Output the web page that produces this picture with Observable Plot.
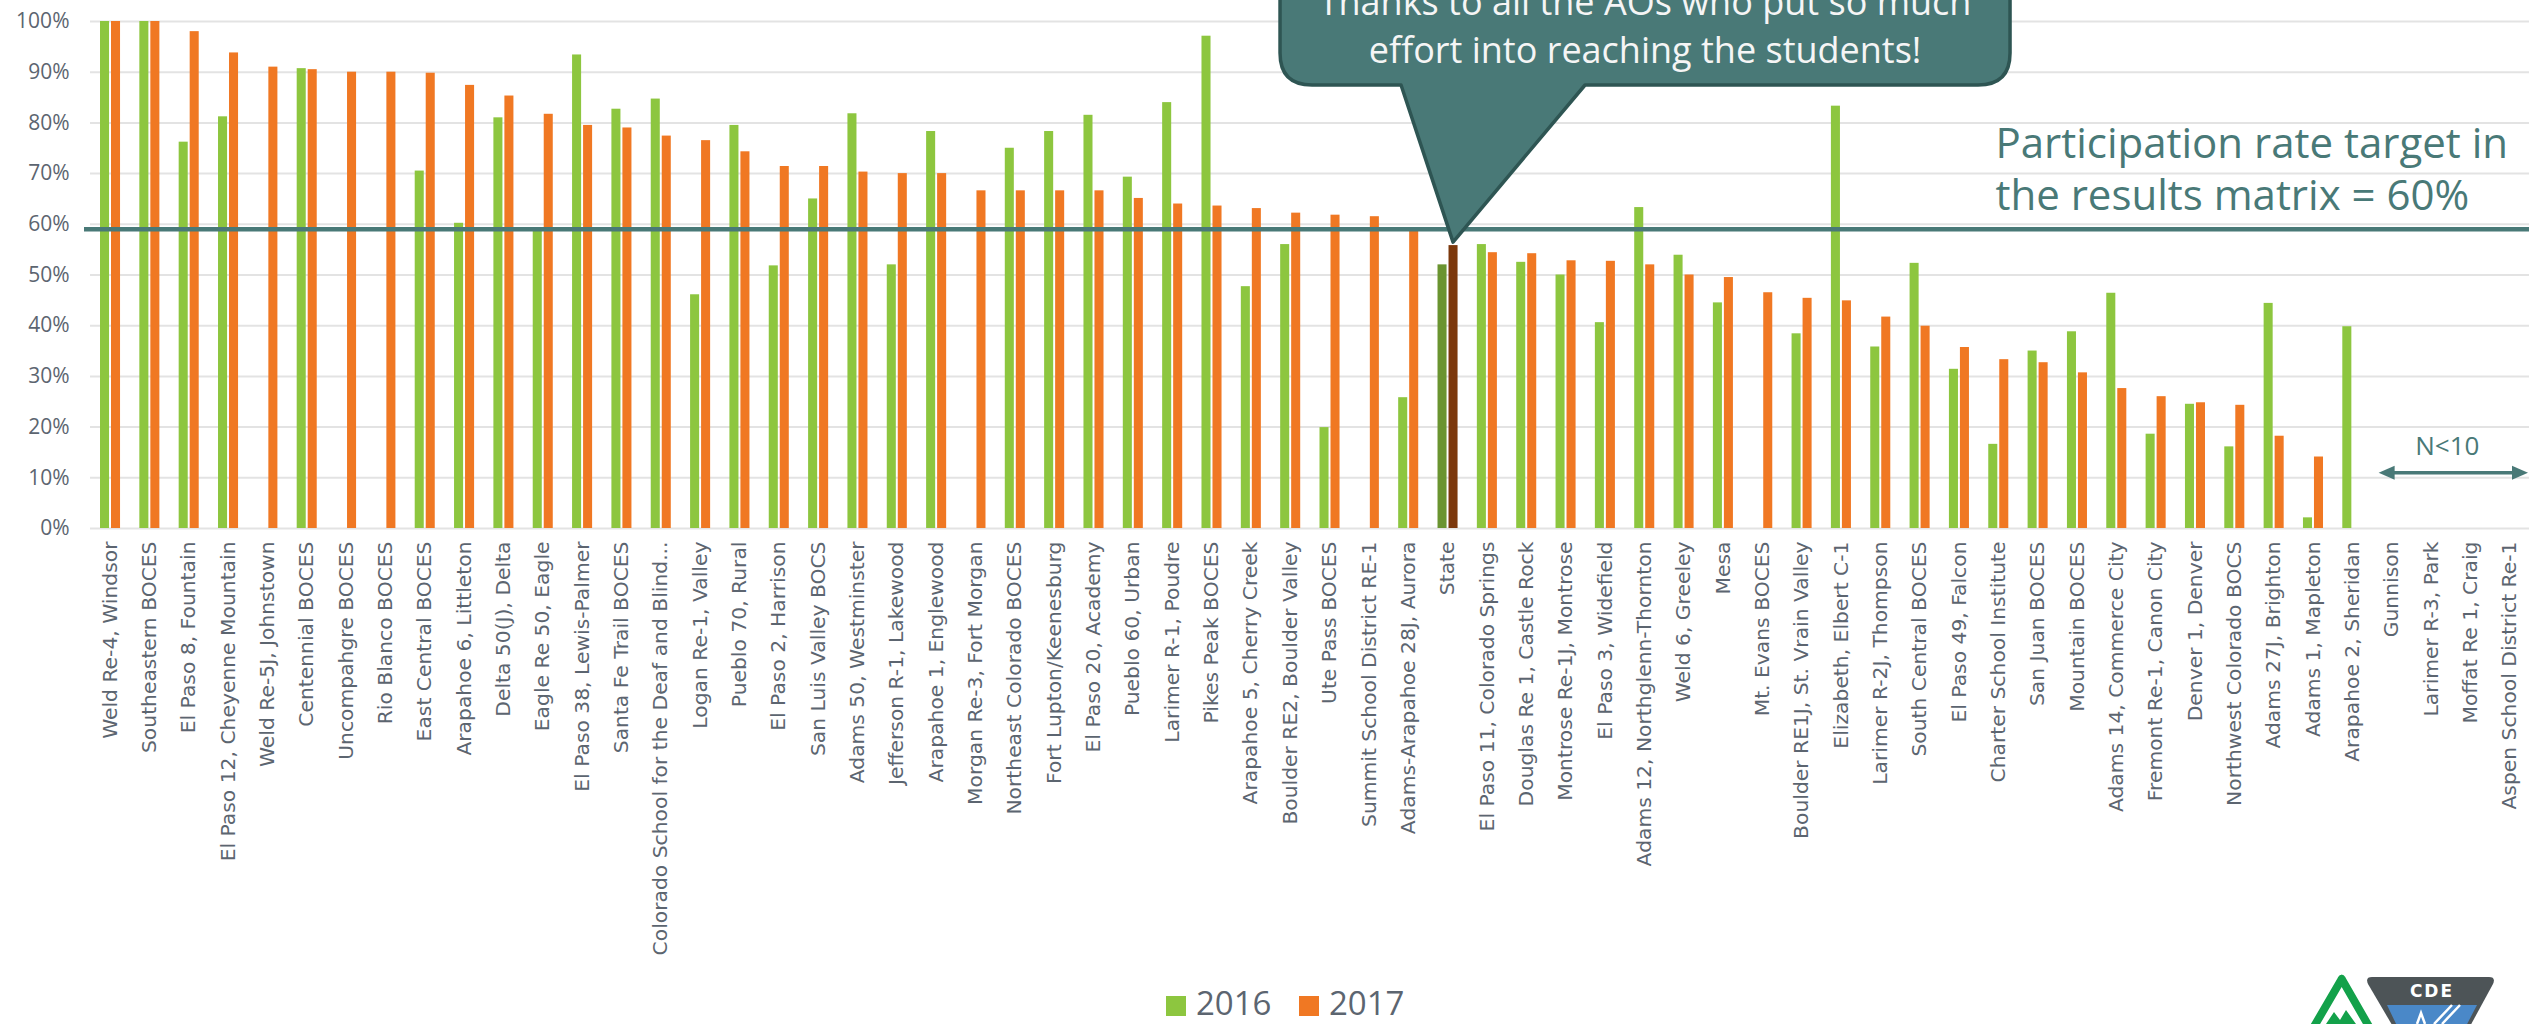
<!DOCTYPE html>
<html><head><meta charset="utf-8">
<script src="https://cdn.jsdelivr.net/npm/d3@7"></script>
<script src="https://cdn.jsdelivr.net/npm/@observablehq/plot@0.6"></script>
<style>
html,body{margin:0;padding:0;background:#fff}
body{width:2529px;height:1024px;overflow:hidden;position:relative;font-family:"Open Sans",sans-serif}
#chart svg{display:block;overflow:visible}
#legend{position:absolute;left:0;top:964px}
#logo{position:absolute;left:2290px;top:964px}
</style></head><body>
<div id="chart"></div>
<div id="legend"></div>
<svg id="logo" width="239" height="60" viewBox="2290 964 239 60">
  <path d="M2341.7,979 L2312,1030 M2341.7,979 L2371,1030" stroke="#13a14a" stroke-width="8" fill="none" stroke-linejoin="round" stroke-linecap="round"/>
  <path d="M2326,1024 L2334,1012 L2340,1020 L2346,1010 L2356,1024 Z" fill="#13a14a"/>
  <path d="M2372,977 L2489,977 Q2496,977 2493,984 L2468,1030 L2395,1030 L2368,984 Q2365,977 2372,977 Z" fill="#4d5457"/>
  <path d="M2387,1005 L2477,1005 L2464,1030 L2399,1030 Z" fill="#4a88c8"/>
  <path d="M2417,1024 L2421,1013 L2425,1024 M2434,1024 L2452,1005 M2442,1024 L2460,1005" stroke="#fff" stroke-width="2.5" fill="none"/>
  <text x="2432" y="997" fill="#fff" font-family="DejaVu Sans" font-weight="bold" font-size="17" letter-spacing="2" text-anchor="middle">CDE</text>
</svg>
<script>
// ---------- data ----------
const categories = [
  "Weld Re-4, Windsor","Southeastern BOCES","El Paso 8, Fountain","El Paso 12, Cheyenne Mountain",
  "Weld Re-5J, Johnstown","Centennial BOCES","Uncompahgre BOCES","Rio Blanco BOCES","East Central BOCES",
  "Arapahoe 6, Littleton","Delta 50(J), Delta","Eagle Re 50, Eagle","El Paso 38, Lewis-Palmer",
  "Santa Fe Trail BOCES","Colorado School for the Deaf and Blind...","Logan Re-1, Valley","Pueblo 70, Rural",
  "El Paso 2, Harrison","San Luis Valley BOCS","Adams 50, Westminster","Jefferson R-1, Lakewood",
  "Arapahoe 1, Englewood","Morgan Re-3, Fort Morgan","Northeast Colorado BOCES","Fort Lupton/Keenesburg",
  "El Paso 20, Academy","Pueblo 60, Urban","Larimer R-1, Poudre","Pikes Peak BOCES",
  "Arapahoe 5, Cherry Creek","Boulder RE2, Boulder Valley","Ute Pass BOCES","Summit School District RE-1",
  "Adams-Arapahoe 28J, Aurora","State","El Paso 11, Colorado Springs","Douglas Re 1, Castle Rock",
  "Montrose Re-1J, Montrose","El Paso 3, Widefield","Adams 12, Northglenn-Thornton","Weld 6, Greeley",
  "Mesa","Mt. Evans BOCES","Boulder RE1J, St. Vrain Valley","Elizabeth, Elbert C-1",
  "Larimer R-2J, Thompson","South Central BOCES","El Paso 49, Falcon","Charter School Institute",
  "San Juan BOCES","Mountain BOCES","Adams 14, Commerce City","Fremont Re-1, Canon City",
  "Denver 1, Denver","Northwest Colorado BOCS","Adams 27J, Brighton","Adams 1, Mapleton",
  "Arapahoe 2, Sheridan","Gunnison","Larimer R-3, Park","Moffat Re 1, Craig","Aspen School District Re-1"
];
const v2016 = [
  100, 100, 76.2, 81.2, null, 90.7, null, null, 70.5, 60.2, 81.0, 58.8, 93.4, 82.7, 84.7, 46.1, 79.5,
  51.8, 65.0, 81.8, 52.0, 78.3, null, 75.0, 78.3, 81.5, 69.3, 84.0, 97.1, 47.7, 56.0, 19.9, null,
  25.8, 52.0, 56.0, 52.5, 50.0, 40.6, 63.3, 53.9, 44.5, null, 38.4, 83.3, 35.8, 52.3, 31.4, 16.6,
  35.0, 38.8, 46.4, 18.6, 24.5, 16.1, 44.4, 2.1, 39.8, null, null, null, null
];
const v2017 = [
  100, 100, 98.0, 93.8, 91.0, 90.5, 90.0, 90.0, 89.8, 87.4, 85.3, 81.7, 79.5, 79.0, 77.4, 76.5, 74.3,
  71.4, 71.4, 70.3, 70.0, 70.0, 66.6, 66.6, 66.6, 66.6, 65.1, 64.0, 63.6, 63.1, 62.2, 61.8, 61.5,
  58.8, 55.8, 54.4, 54.2, 52.8, 52.7, 52.0, 50.0, 49.5, 46.5, 45.4, 44.9, 41.7, 39.9, 35.7, 33.3,
  32.7, 30.7, 27.6, 26.0, 24.8, 24.3, 18.2, 14.1, null, null, null, null, null
];
const seriesNames = ["2016", "2017"];
const seriesColors = ["#8dc63f", "#f07823"];
const highlightName = "State";
const highlightColors = ["#6a9430", "#7c380c"];
const yTicks = [0, 10, 20, 30, 40, 50, 60, 70, 80, 90, 100];
const targetValue = 59;
const targetLabel = "Participation rate target in\nthe results matrix = 60%";
const calloutLines = ["Thanks to all the AOs who put so much", "effort into reaching the students!"];
const smallNLabel = "N<10";
const smallNFrom = "Gunnison";

// ---------- chart ----------
const data = categories.map((name, i) => ({name, v2016: v2016[i], v2017: v2017[i]}));
const W = 2529, H = 964, ML = 90, MR = 0, MT = 21, MB = H - 528;
const teal = "#497977";
const textGray = "#5c6570";

const plot = Plot.plot({
  width: W, height: H,
  marginLeft: ML, marginRight: MR, marginTop: MT, marginBottom: MB,
  style: {background: "#fff", color: textGray, fontFamily: "Open Sans", overflow: "visible"},
  x: {type: "band", domain: categories, padding: 0, round: false},
  y: {domain: [0, 100]},
  color: {type: "identity"},
  marks: [
    Plot.gridY(yTicks, {stroke: "#e3e3e3", strokeOpacity: 1, strokeWidth: 2}),
    Plot.axisY(yTicks, {tickSize: 0, tickPadding: 21, tickFormat: d => d + "%", fontSize: 21, fontFamily: "Open Sans", label: null}),
    Plot.axisX({tickSize: 0, tickPadding: 13, tickRotate: -90, fontSize: 20.3, fontFamily: "DejaVu Sans", label: null}),
    Plot.barY(data, {x: "name", y1: 0, y2: "v2016",
      fill: d => d.name === highlightName ? highlightColors[0] : seriesColors[0],
      insetLeft: 10, insetRight: 20.3}),
    Plot.barY(data, {x: "name", y1: 0, y2: "v2017",
      fill: d => d.name === highlightName ? highlightColors[1] : seriesColors[1],
      insetLeft: 21, insetRight: 9.3}),
    Plot.ruleY([targetValue], {stroke: teal, strokeWidth: 4.5, insetLeft: -6}),
    Plot.text([targetLabel], {x: () => "Charter School Institute", y: () => 62.9, text: d => d,
      textAnchor: "start", lineAnchor: "bottom", lineHeight: 1.24, fontSize: 42,
      fill: teal, dx: -3, fontFamily: "Open Sans"})
  ]
});
document.getElementById("chart").appendChild(plot);

// ---------- annotations positioned through the scales ----------
const xs = plot.scale("x"), ys = plot.scale("y");
const svg = d3.select(plot);
const hi = categories.indexOf(highlightName);
const bw = xs.bandwidth;
const tipX = xs.apply(highlightName) + 21 + (bw - 30.3) / 2;
const tipY = ys.apply(v2017[hi]) - 3;
const L = tipX - 173, R = tipX + 557, B = 85, T = -60, r = 32;
const PL = tipX - 52, PR = tipX + 132;
const g = svg.append("g");
g.append("path")
  .attr("d", `M${L},${T} V${B - r} Q${L},${B} ${L + r},${B} H${PL} L${tipX},${tipY} L${PR},${B} H${R - r} Q${R},${B} ${R},${B - r} V${T} Z`)
  .attr("fill", teal).attr("stroke", "#2e5553").attr("stroke-width", 3.5).attr("stroke-linejoin", "round");
calloutLines.forEach((t, i) => {
  g.append("text").attr("x", (L + R) / 2).attr("y", 15 + i * 48)
    .attr("text-anchor", "middle").attr("fill", "#f5f5f5")
    .attr("font-family", "Open Sans").attr("font-size", 36).text(t);
});
// N<10 double arrow
const ax1 = xs.apply(smallNFrom) + 7, ax2 = W - 1, ay = ys.apply(10.9);
const hl = 16, hh = 7;
g.append("line").attr("x1", ax1 + hl - 2).attr("x2", ax2 - hl + 2).attr("y1", ay).attr("y2", ay)
  .attr("stroke", teal).attr("stroke-width", 3.5);
g.append("path").attr("d", `M${ax1},${ay} L${ax1 + hl},${ay - hh} L${ax1 + hl},${ay + hh} Z`).attr("fill", teal);
g.append("path").attr("d", `M${ax2},${ay} L${ax2 - hl},${ay - hh} L${ax2 - hl},${ay + hh} Z`).attr("fill", teal);
g.append("text").attr("x", (ax1 + ax2) / 2 - 6).attr("y", ay - 18).attr("text-anchor", "middle")
  .attr("fill", teal).attr("font-family", "Open Sans").attr("font-size", 26).text(smallNLabel);

// ---------- legend (below the svg) ----------
const leg = d3.select("#legend").append("svg").attr("width", W).attr("height", 60);
const legX = [1166, 1299];
seriesNames.forEach((s, i) => {
  leg.append("rect").attr("x", legX[i]).attr("y", 32).attr("width", 20).attr("height", 20).attr("fill", seriesColors[i]);
  leg.append("text").attr("x", legX[i] + 30).attr("y", 51).attr("fill", textGray)
    .attr("font-family", "Open Sans").attr("font-size", 33).text(s);
});
</script>
</body></html>
